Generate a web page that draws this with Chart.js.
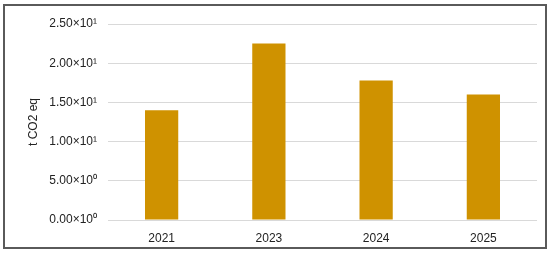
<!DOCTYPE html>
<html>
<head>
<meta charset="utf-8">
<script src="https://cdn.jsdelivr.net/npm/chart.js@4"></script>
<style>
  html, body { margin: 0; padding: 0; background: #fff; }
  #wrap { position: relative; width: 550px; height: 253px; }
  #c { display: block; }
  #frame { position: absolute; left: 3px; top: 4px; width: 540px; height: 241px; border: 2px solid #5a5a5a; pointer-events: none; }
</style>
</head>
<body>
<div id="wrap">
  <canvas id="c" width="550" height="253"></canvas>
  <div id="frame"></div>
</div>
<script>
const categories = ["2021", "2023", "2024", "2025"];
const emissions = [14.0, 22.5, 17.8, 16.0];
const yTicks = [0, 5, 10, 15, 20, 25];
const yTitle = "t CO2 eq";

const sup = {"0":"⁰","1":"¹","2":"²","3":"³","4":"⁴","5":"⁵","6":"⁶","7":"⁷","8":"⁸","9":"⁹","-":"⁻"};
function sci(v) {
  if (v === 0) return "0.00×10⁰";
  const e = Math.floor(Math.log10(Math.abs(v)));
  const m = v / Math.pow(10, e);
  return m.toFixed(2) + "×10" + String(e).split("").map(c => sup[c]).join("");
}

Chart.defaults.font.family = "'Liberation Sans', Arial, sans-serif";
Chart.defaults.font.size = 12;
Chart.defaults.color = "#333";

new Chart(document.getElementById("c"), {
  type: "bar",
  data: {
    labels: categories,
    datasets: [{
      data: emissions,
      backgroundColor: "#cf9200",
      barPercentage: 0.31,
      categoryPercentage: 1.0
    }]
  },
  options: {
    responsive: false,
    animation: false,
    layout: { padding: { left: 22, right: 13, top: 24, bottom: 8 } },
    plugins: { legend: { display: false }, tooltip: { enabled: false } },
    scales: {
      x: {
        afterFit: s => { s.height = 25; },
        grid: { display: false, drawTicks: false },
        border: { display: false },
        ticks: { padding: 11, color: "#222" }
      },
      y: {
        min: 0, max: 25,
        afterBuildTicks: s => { s.ticks = yTicks.map(v => ({ value: v })); },
        afterFit: s => { s.width = 86; },
        grid: { color: "#d9d9d9", drawTicks: false, lineWidth: 1 },
        border: { display: false },
        ticks: { padding: 11, color: "#222", callback: v => sci(v) },
        title: { display: true, text: yTitle, color: "#222", font: { size: 12 } }
      }
    }
  }
});
</script>
</body>
</html>
